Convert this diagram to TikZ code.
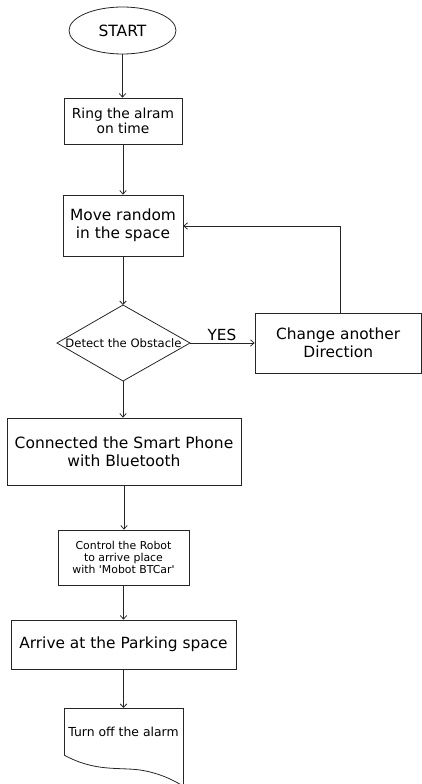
\documentclass[tikz,border=0pt]{standalone}
\usepackage{fontspec}
\setmainfont{DejaVu Sans}
\newfontfamily\plainfont{DejaVu Sans}[Ligatures=TeXOff]
\usetikzlibrary{shapes.geometric,arrows.meta}
\begin{document}
\begin{tikzpicture}[x=1pt,y=-1pt,
  line width=0.8pt, draw=black!85,
  box/.style={draw,rectangle,inner sep=0pt,align=center},
  arr/.style={-{Straight Barb[length=3.5pt,width=6.5pt]}}]
\useasboundingbox (0,0) rectangle (422,784);
\node[draw,ellipse,inner sep=0pt,minimum width=107pt,minimum height=47pt,font=\fontsize{15.5}{18}\selectfont] (start) at (122.5,30.5) {START};
\node[box,minimum width=118pt,minimum height=46pt,font=\fontsize{13.8}{15}\selectfont] (ring) at (123,121) {Ring the alram\\on time};
\node[box,minimum width=120pt,minimum height=61pt,font=\fontsize{15.4}{17.7}\selectfont] (move) at (123,225.5) {Move random\\in the space};
\coordinate (dtop) at (123,305);
\coordinate (dbot) at (123,381);
\coordinate (dleft) at (57,343);
\coordinate (dright) at (190,343);
\draw (dtop) -- (dright) -- (dbot) -- (dleft) -- cycle;
\node[inner sep=0pt,font=\fontsize{11.6}{13}\selectfont] (dtext) at (123.5,343) {Detect the Obstacle};
\node[box,minimum width=166.5pt,minimum height=60pt,font=\fontsize{15.4}{17.7}\selectfont] (change) at (338.25,343) {Change another\\Direction};
\node[inner sep=0pt,font=\fontsize{15.3}{17}\selectfont] (yes) at (222,335) {YES};
\node[box,minimum width=234pt,minimum height=67pt,font=\fontsize{15.5}{18.3}\selectfont] (conn) at (124,451.5) {Connected the Smart Phone\\with Bluetooth};
\node[box,minimum width=131pt,minimum height=55pt,font=\plainfont\fontsize{10.9}{12.3}\selectfont] (ctrl) at (123.5,557.5) {Control the Robot\\to arrive place\\with 'Mobot BTCar'};
\node[box,minimum width=225pt,minimum height=49pt,font=\fontsize{15.4}{18}\selectfont] (arrive) at (123.5,644.5) {Arrive at the Parking space};
\coordinate (doctop) at (123.5,708);
\draw (64,755) -- (64,708) -- (183,708) -- (183,790);
\draw (64,755) .. controls (95,772) and (118,767) .. (140,770) .. controls (160,773) and (175,781) .. (183,786);
\node[inner sep=0pt,font=\fontsize{12.4}{14}\selectfont] (doc) at (123.5,732) {Turn off the alarm};
\coordinate (fbup) at (340,226);
\draw[arr] (start.south) -- (start.south |- ring.north);
\draw[arr] (ring.south) -- (ring.south |- move.north);
\draw[arr] (move.south) -- (dtop);
\draw[arr] (dright) -- (change.west);
\draw[arr] (change.north -| fbup) -- (fbup) -- (move.east |- fbup);
\draw[arr] (dbot) -- (dbot |- conn.north);
\draw[arr] (conn.south) -- (conn.south |- ctrl.north);
\draw[arr] (ctrl.south) -- (ctrl.south |- arrive.north);
\draw[arr] (arrive.south) -- (doctop);
\end{tikzpicture}
\end{document}
